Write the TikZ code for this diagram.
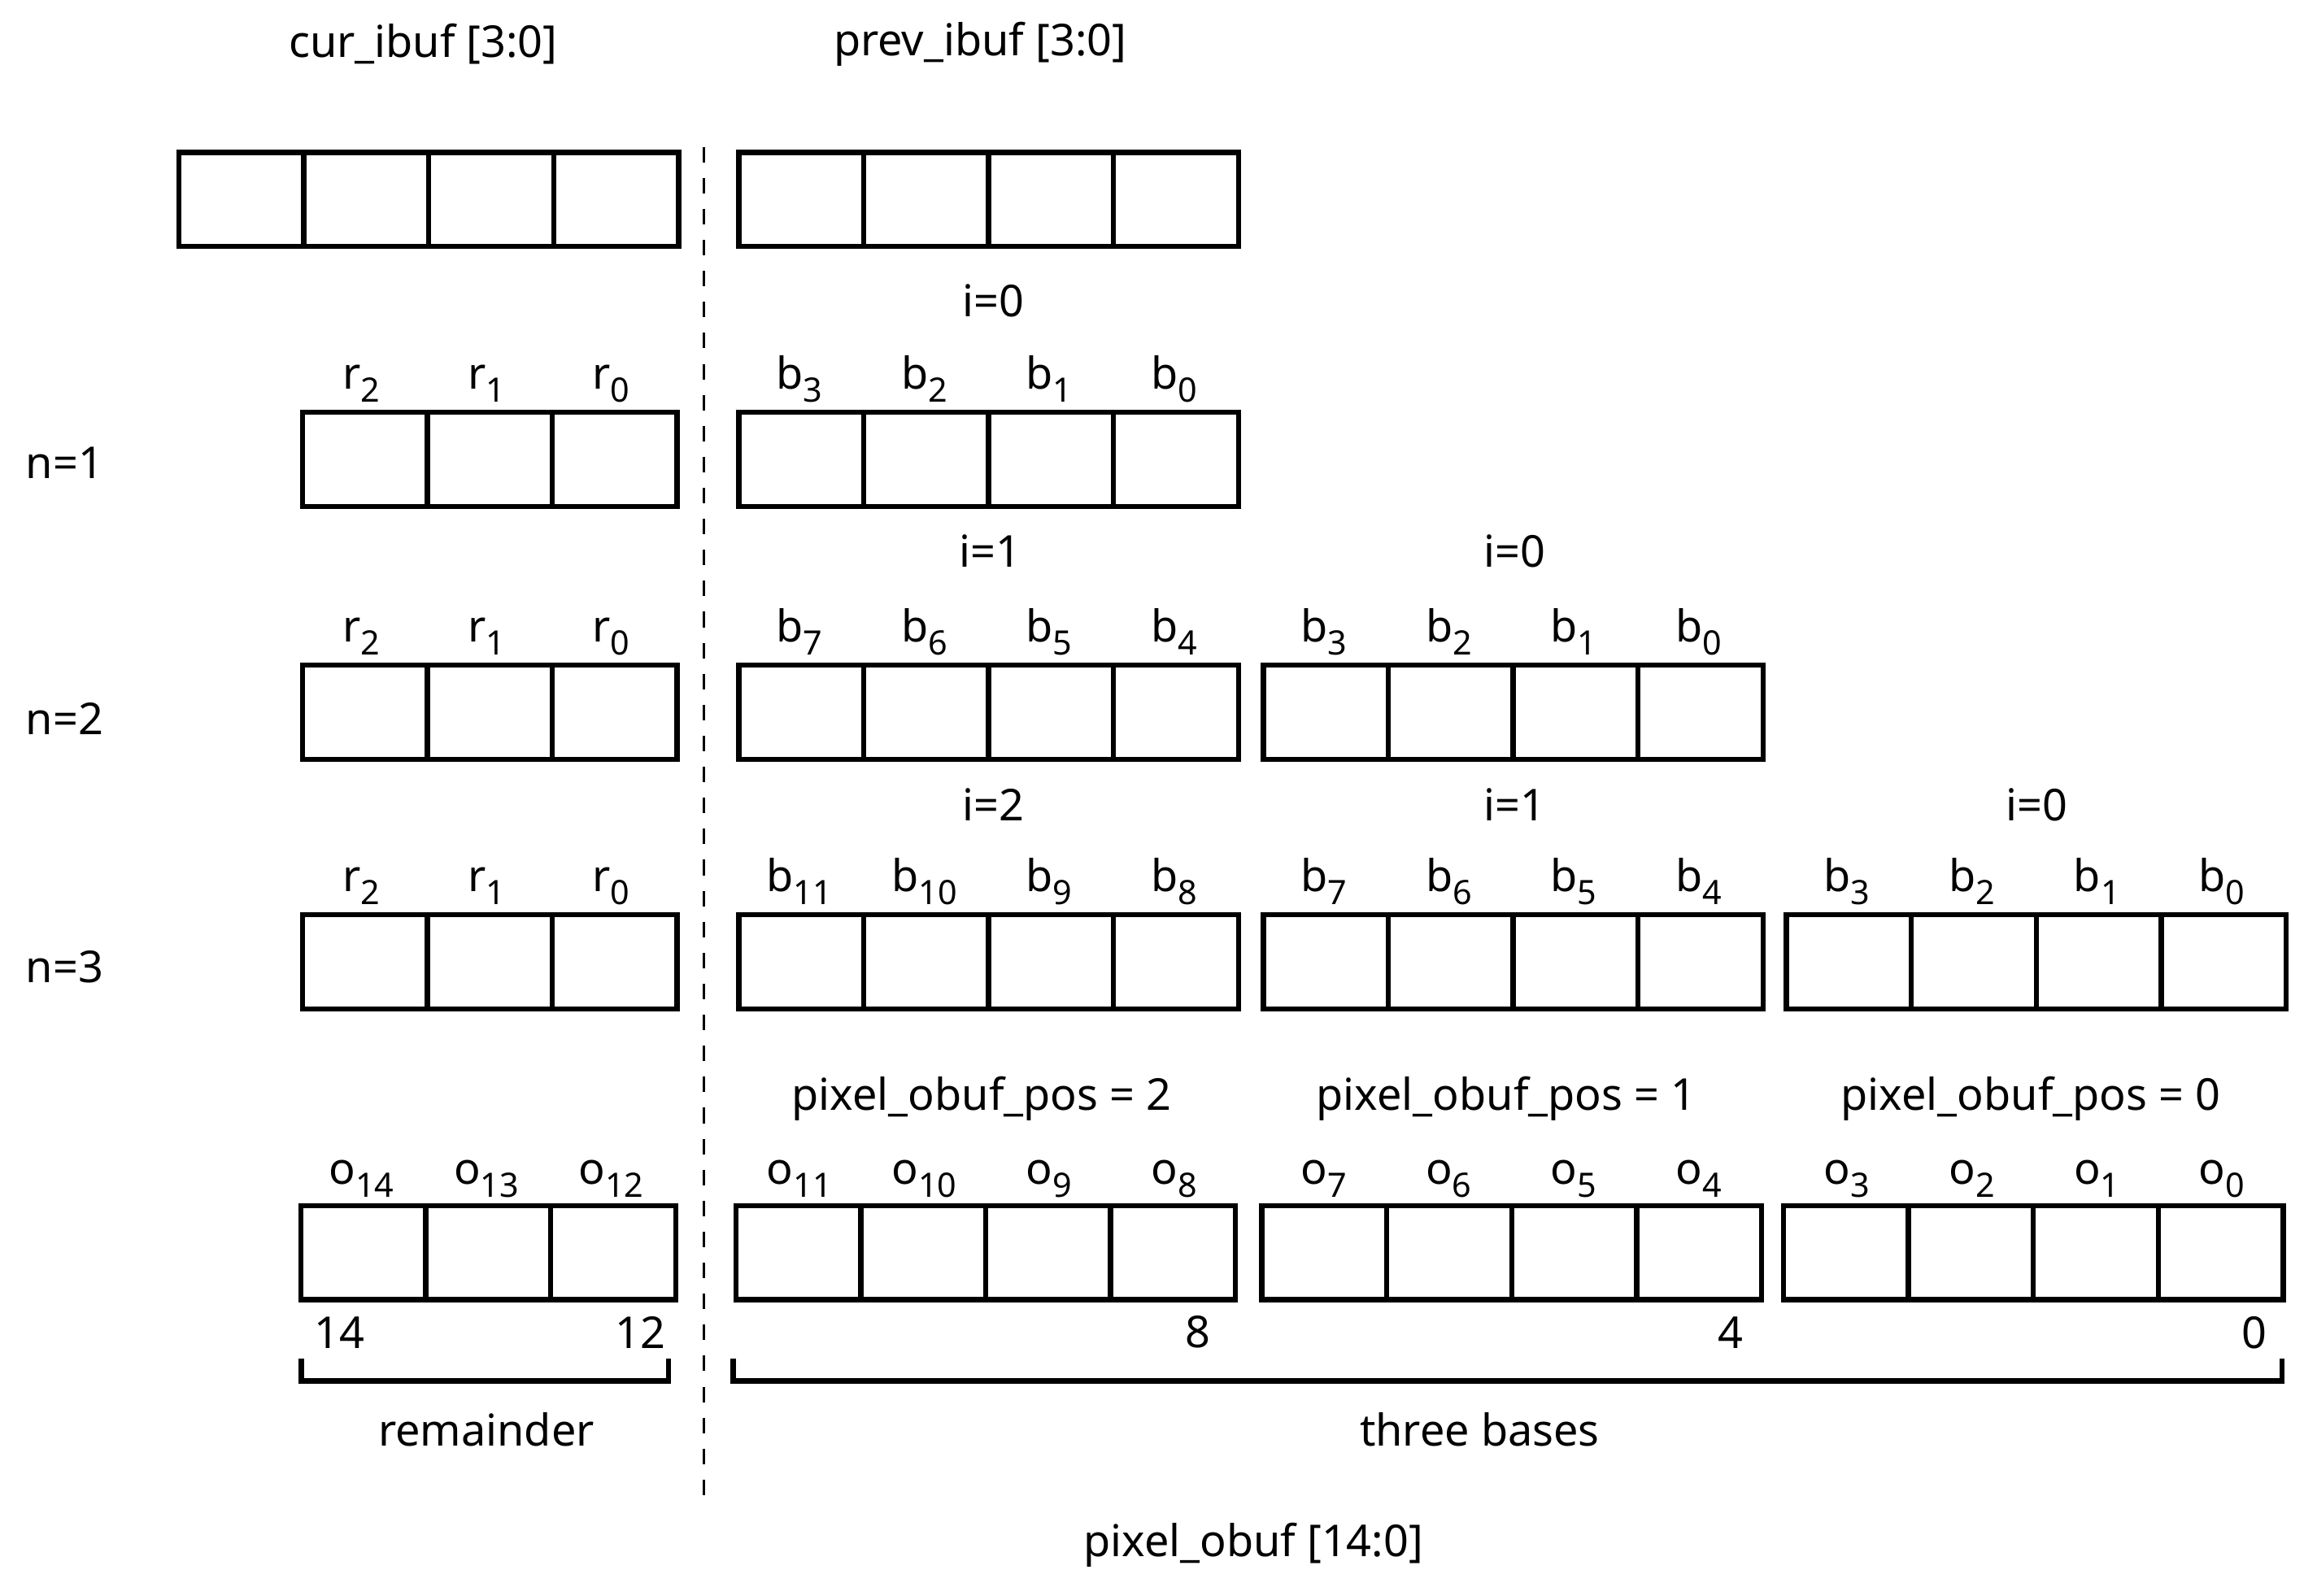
\documentclass[tikz,border=0pt]{standalone}
\usepackage{fontspec}
\setmainfont{Noto Sans}
\newcommand\sbx[1]{\raisebox{-0.55ex}{\fontsize{6.5}{7}\selectfont #1}}
\begin{document}
\begin{tikzpicture}[x=0.01cm,y=-0.01cm,
  every node/.style={font=\fontsize{8.5}{10}\selectfont,inner sep=0pt},
  cell/.style={draw,line width=1pt,minimum width=0.85cm,minimum height=0.64cm,inner sep=0pt},
  lbl/.style={anchor=base},
  brk/.style={line width=1pt}]
\useasboundingbox (0,0) rectangle (1568,1086);
% helper: row of cells; #1 name prefix, #2 left x, #3 top y, #4 count
\newcommand\cellrow[4]{\foreach \k in {1,...,#4}{\node[cell,anchor=north west] (#1\k) at ({#2+85*(\k-1)},#3) {};}}
% titles
\node (t1) at (288,30) {cur\_ibuf [3:0]};
\node (t2) at (667,30) {prev\_ibuf [3:0]};
\cellrow{ca}{120}{102}{4}
\cellrow{pa}{501}{102}{4}
\draw[dashed,line width=0.6pt] (479,100) -- (479,1025);
% n=1
\node (n1) at (44,315) {n=1};
\node (i10) at (676,205) {i=0};
\cellrow{r1}{204}{279}{3}
\cellrow{ba}{501}{279}{4}
\foreach \t [count=\k] in {r\sbx{2},r\sbx{1},r\sbx{0}} \node[lbl] (rl1\k) at ({246+85*(\k-1)},265) {\t};
\foreach \t [count=\k] in {b\sbx{3},b\sbx{2},b\sbx{1},b\sbx{0}} \node[lbl] (bl1\k) at ({544+85*(\k-1)},265) {\t};
% n=2
\node (n2) at (44,489) {n=2};
\node (i21) at (674,375) {i=1};
\node (i20) at (1031,375) {i=0};
\cellrow{r2}{204}{451}{3}
\cellrow{bb}{501}{451}{4}
\cellrow{bc}{858}{451}{4}
\foreach \t [count=\k] in {r\sbx{2},r\sbx{1},r\sbx{0}} \node[lbl] (rl2\k) at ({246+85*(\k-1)},437) {\t};
\foreach \t [count=\k] in {b\sbx{7},b\sbx{6},b\sbx{5},b\sbx{4}} \node[lbl] (bl2\k) at ({544+85*(\k-1)},437) {\t};
\foreach \t [count=\k] in {b\sbx{3},b\sbx{2},b\sbx{1},b\sbx{0}} \node[lbl] (bl3\k) at ({901+85*(\k-1)},437) {\t};
% n=3
\node (n3) at (44,658) {n=3};
\node (i32) at (676,548) {i=2};
\node (i31) at (1031,548) {i=1};
\node (i30) at (1386,548) {i=0};
\cellrow{r3}{204}{621}{3}
\cellrow{bd}{501}{621}{4}
\cellrow{be}{858}{621}{4}
\cellrow{bf}{1214}{621}{4}
\foreach \t [count=\k] in {r\sbx{2},r\sbx{1},r\sbx{0}} \node[lbl] (rl3\k) at ({246+85*(\k-1)},607) {\t};
\foreach \t [count=\k] in {b\sbx{11},b\sbx{10},b\sbx{9},b\sbx{8}} \node[lbl] (bl4\k) at ({544+85*(\k-1)},607) {\t};
\foreach \t [count=\k] in {b\sbx{7},b\sbx{6},b\sbx{5},b\sbx{4}} \node[lbl] (bl5\k) at ({901+85*(\k-1)},607) {\t};
\foreach \t [count=\k] in {b\sbx{3},b\sbx{2},b\sbx{1},b\sbx{0}} \node[lbl] (bl6\k) at ({1257+85*(\k-1)},607) {\t};
% output
\node (p2) at (668,748) {pixel\_obuf\_pos = 2};
\node (p1) at (1025,748) {pixel\_obuf\_pos = 1};
\node (p0) at (1382,748) {pixel\_obuf\_pos = 0};
\cellrow{oa}{203}{819}{3}
\cellrow{ob}{499}{819}{4}
\cellrow{oc}{857}{819}{4}
\cellrow{od}{1212}{819}{4}
\foreach \t [count=\k] in {o\sbx{14},o\sbx{13},o\sbx{12}} \node[lbl] (ol1\k) at ({246+85*(\k-1)},806) {\t};
\foreach \t [count=\k] in {o\sbx{11},o\sbx{10},o\sbx{9},o\sbx{8}} \node[lbl] (ol2\k) at ({544+85*(\k-1)},806) {\t};
\foreach \t [count=\k] in {o\sbx{7},o\sbx{6},o\sbx{5},o\sbx{4}} \node[lbl] (ol3\k) at ({901+85*(\k-1)},806) {\t};
\foreach \t [count=\k] in {o\sbx{3},o\sbx{2},o\sbx{1},o\sbx{0}} \node[lbl] (ol4\k) at ({1257+85*(\k-1)},806) {\t};
\node (x14) at (231,907) {14};
\node (x12) at (436,907) {12};
\node (x8) at (815,907) {8};
\node (x4) at (1178,907) {4};
\node (x0) at (1534,907) {0};
\draw[brk] (205,925) -- (205,940) -- (455,940) -- (455,925);
\draw[brk] (499,925) -- (499,940) -- (1553,940) -- (1553,925);
\node (rem) at (331,973) {remainder};
\node (tb) at (1007,973) {three bases};
\node (po) at (853,1052) {pixel\_obuf [14:0]};
\end{tikzpicture}
\end{document}
